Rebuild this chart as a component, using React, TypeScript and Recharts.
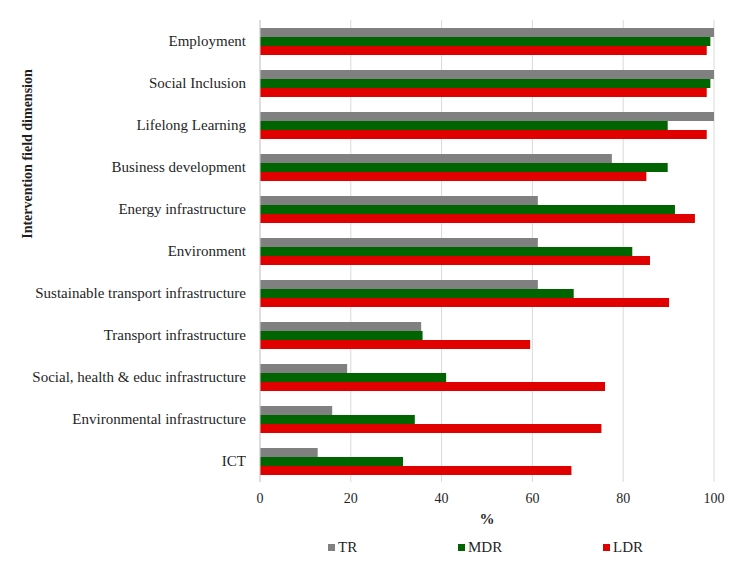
import React from 'react';
import { BarChart, Bar, XAxis, YAxis, CartesianGrid, Legend, Label } from 'recharts';

const categories = [
  'Employment',
  'Social Inclusion',
  'Lifelong Learning',
  'Business development',
  'Energy infrastructure',
  'Environment',
  'Sustainable transport infrastructure',
  'Transport infrastructure',
  'Social, health & educ infrastructure',
  'Environmental infrastructure',
  'ICT',
];
const trValues = [100, 100, 100, 77.5, 61.2, 61.2, 61.2, 35.5, 19.2, 15.9, 12.7];
const mdrValues = [99.2, 99.2, 89.8, 89.8, 91.4, 82.0, 69.1, 35.8, 41.0, 34.1, 31.5];
const ldrValues = [98.4, 98.4, 98.4, 85.1, 95.8, 85.9, 90.1, 59.5, 76.0, 75.2, 68.6];
const xTicks = [0, 20, 40, 60, 80, 100];

const series = [
  { key: 'TR', color: '#808080' },
  { key: 'MDR', color: '#006400' },
  { key: 'LDR', color: '#e00000' },
];

const data = categories.map((name, i) => ({
  name,
  TR: trValues[i],
  MDR: mdrValues[i],
  LDR: ldrValues[i],
}));

const FONT = '"Liberation Serif", "Times New Roman", serif';
const TEXT = '#1f1f1f';

const legendLeft = [320, 450, 595];

const renderLegend = () => (
  <div style={{ position: 'relative', height: 32, width: 733, fontFamily: FONT }}>
    {series.map((s, i) => (
      <div
        key={s.key}
        style={{
          position: 'absolute',
          left: legendLeft[i],
          top: 15,
          display: 'flex',
          alignItems: 'center',
          fontSize: 15,
          color: TEXT,
          lineHeight: '16px',
        }}
      >
        <span style={{ display: 'inline-block', width: 7, height: 7, background: s.color, marginRight: 3 }} />
        <span>{s.key}</span>
      </div>
    ))}
  </div>
);

const renderYLabel = (props: any) => {
  const vb = props.viewBox || { x: 0, y: 12 };
  const x = 19.5;
  const y = vb.y + 134;
  return (
    <text
      x={x}
      y={y}
      transform={`rotate(-90, ${x}, ${y})`}
      textAnchor="middle"
      dominantBaseline="central"
      fontFamily={FONT}
      fontWeight="bold"
      fontSize={14}
      fill={TEXT}
    >
      Intervention field dimension
    </text>
  );
};

export default function App() {
  return (
    <div style={{ background: '#fff', width: 733, height: 563 }}>
      <BarChart
        width={733}
        height={563}
        data={data}
        layout="vertical"
        margin={{ top: 12, right: 27, bottom: 15, left: 0 }}
        barGap={0}
        barSize={9}
      >
        <CartesianGrid horizontal={false} stroke="#d9d9d9" />
        <XAxis
          type="number"
          domain={[0, 100]}
          ticks={xTicks}
          axisLine={false}
          tickLine={false}
          tickSize={0}
          tickMargin={11}
          height={42}
          tick={{ fontFamily: FONT, fontSize: 14, fill: TEXT }}
        >
          <Label
            value="%"
            position="insideBottom"
            offset={0}
            style={{ fontFamily: FONT, fontSize: 15, fontWeight: 'bold', fill: TEXT }}
          />
        </XAxis>
        <YAxis
          type="category"
          dataKey="name"
          width={252}
          axisLine={{ stroke: '#d0d0d0' }}
          tickLine={false}
          tickSize={0}
          tickMargin={14}
          interval={0}
          tick={{ fontFamily: FONT, fontSize: 15, fill: TEXT }}
        >
          <Label content={renderYLabel} />
        </YAxis>
        <Legend verticalAlign="bottom" content={renderLegend} />
        {series.map((s) => (
          <Bar key={s.key} dataKey={s.key} fill={s.color} isAnimationActive={false} />
        ))}
      </BarChart>
    </div>
  );
}
